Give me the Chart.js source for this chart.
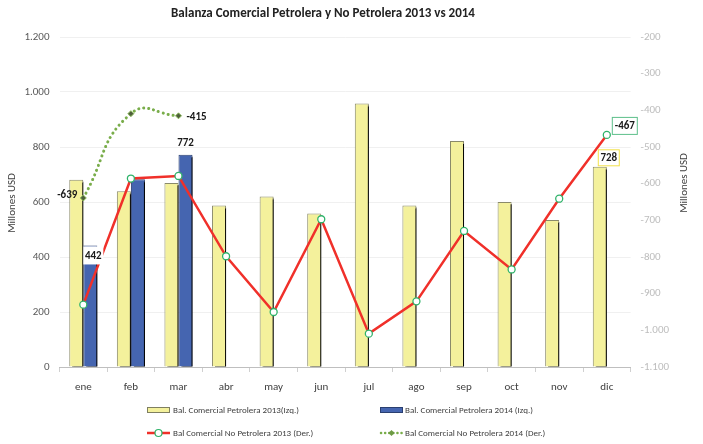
<!DOCTYPE html>
<html>
<head>
<meta charset="utf-8">
<script src="https://cdn.jsdelivr.net/npm/chart.js@4.4.1/dist/chart.umd.min.js"></script>
<style>
  body { margin: 0; background: #fff; }
</style>
</head>
<body>
<canvas id="chart" width="703" height="444"></canvas>
<script>
const FONT = 'Carlito, Lato, sans-serif'

const months = ['ene', 'feb', 'mar', 'abr', 'may', 'jun', 'jul', 'ago', 'sep', 'oct', 'nov', 'dic']
const petrolera2013 = [681, 639, 669, 587, 620, 558, 958, 587, 822, 600, 535, 728]
const petrolera2014 = [442, 683, 772, null, null, null, null, null, null, null, null, null]
const noPetrolera2013 = [-930, -586, -579, -798, -950, -697, -1009, -921, -729, -834, -641, -467]
const noPetrolera2014 = [-639, -409, -415, null, null, null, null, null, null, null, null, null]

const seriesNames = [
    'Bal. Comercial Petrolera 2013(Izq.)',
    'Bal. Comercial Petrolera 2014 (Izq.)',
    'Bal Comercial No Petrolera 2013 (Der.)',
    'Bal Comercial No Petrolera 2014 (Der.)'
]
const chartTitle = 'Balanza Comercial Petrolera y No Petrolera 2013 vs 2014'
const axisTitle = 'Millones USD'

function fmt(v) {
    // thousands with a dot, like the spanish excel
    const s = Math.abs(v).toString().replace(/\B(?=(\d{3})+(?!\d))/g, '.')
    return (v < 0 ? '-' : '') + s
}

// dark shadow on the right of the bars
const barShadow = {
    id: 'barShadow',
    beforeDatasetDraw(chart, args) {
        if (args.meta.type !== 'bar') return
        const ctx = chart.ctx
        ctx.save()
        ctx.shadowColor = 'rgba(0,0,0,1)'
        ctx.shadowOffsetX = 3
        ctx.shadowOffsetY = 2
        ctx.shadowBlur = 0
    },
    afterDatasetDraw(chart, args) {
        if (args.meta.type !== 'bar') return
        chart.ctx.restore()
    }
}

function boxLabel(ctx, text, cx, cy, w, h, border) {
    ctx.fillStyle = '#fff'
    ctx.fillRect(cx - w / 2, cy - h / 2, w, h)
    if (border) {
        ctx.strokeStyle = border
        ctx.lineWidth = 1
        ctx.strokeRect(cx - w / 2 + 0.5, cy - h / 2 + 0.5, w - 1, h - 1)
    }
    ctx.fillStyle = '#1a1a1a'
    ctx.fillText(text, cx, cy + 0.5)
}

// titles, data labels and the 2x2 legend
const decorations = {
    id: 'decorations',
    afterDraw(chart) {
        const ctx = chart.ctx
        ctx.save()

        // title
        ctx.font = 'bold 13px ' + FONT
        ctx.fillStyle = '#222'
        ctx.textAlign = 'center'
        ctx.textBaseline = 'middle'
        ctx.fillText(chartTitle, 323, 14)

        // axis titles
        ctx.font = '11px ' + FONT
        ctx.fillStyle = '#404040'
        ctx.save()
        ctx.translate(12, 203)
        ctx.rotate(-Math.PI / 2)
        ctx.fillText(axisTitle, 0, 0)
        ctx.restore()
        ctx.save()
        ctx.translate(684, 183)
        ctx.rotate(-Math.PI / 2)
        ctx.fillText(axisTitle, 0, 0)
        ctx.restore()

        // data labels
        const b13 = chart.getDatasetMeta(2).data
        const b14 = chart.getDatasetMeta(3).data
        const l13 = chart.getDatasetMeta(0).data
        const l14 = chart.getDatasetMeta(1).data
        ctx.font = 'bold 11px ' + FONT
        ctx.fillStyle = '#1a1a1a'
        ctx.textAlign = 'center'
        ctx.fillText(fmt(noPetrolera2014[0]), l14[0].x - 16, l14[0].y - 3)
        ctx.fillText(fmt(noPetrolera2014[2]), l14[2].x + 18, l14[2].y + 1)
        ctx.fillText(fmt(petrolera2014[2]), b14[2].x, b14[2].y - 11)
        boxLabel(ctx, fmt(petrolera2014[0]), b14[0].x + 3, b14[0].y + 10, 20, 18, null)
        boxLabel(ctx, fmt(petrolera2013[11]), b13[11].x + 9, b13[11].y - 9, 22, 17, '#f2e24a')
        boxLabel(ctx, fmt(noPetrolera2013[11]), l13[11].x + 18, l13[11].y - 9, 26, 18, '#5cbf8a')

        // legend
        ctx.font = '9px ' + FONT
        ctx.textAlign = 'left'
        const cols = [147, 380]
        const rows = [410, 433]
        // yellow bar
        ctx.fillStyle = '#f4f19c'
        ctx.fillRect(cols[0], rows[0] - 3, 23, 6)
        ctx.strokeStyle = '#7f7f60'
        ctx.lineWidth = 1
        ctx.strokeRect(cols[0] + 0.5, rows[0] - 2.5, 22, 5)
        // blue bar
        ctx.fillStyle = '#4565b0'
        ctx.fillRect(cols[1], rows[0] - 3, 23, 6)
        ctx.strokeStyle = '#2a3f70'
        ctx.strokeRect(cols[1] + 0.5, rows[0] - 2.5, 22, 5)
        // red line
        ctx.strokeStyle = '#f0302a'
        ctx.lineWidth = 2.5
        ctx.beginPath()
        ctx.moveTo(cols[0], rows[1])
        ctx.lineTo(cols[0] + 23, rows[1])
        ctx.stroke()
        ctx.fillStyle = '#fff'
        ctx.strokeStyle = '#2fb36a'
        ctx.lineWidth = 1.2
        ctx.beginPath()
        ctx.arc(cols[0] + 11.5, rows[1], 3.5, 0, Math.PI * 2)
        ctx.fill()
        ctx.stroke()
        // green dotted
        ctx.strokeStyle = '#79ad4a'
        ctx.lineWidth = 2.5
        ctx.lineCap = 'round'
        ctx.setLineDash([0.1, 4])
        ctx.beginPath()
        ctx.moveTo(cols[1] + 1, rows[1])
        ctx.lineTo(cols[1] + 22, rows[1])
        ctx.stroke()
        ctx.setLineDash([])
        ctx.fillStyle = '#6d9a44'
        ctx.beginPath()
        ctx.moveTo(cols[1] + 11.5, rows[1] - 3)
        ctx.lineTo(cols[1] + 14.5, rows[1])
        ctx.lineTo(cols[1] + 11.5, rows[1] + 3)
        ctx.lineTo(cols[1] + 8.5, rows[1])
        ctx.closePath()
        ctx.fill()

        ctx.fillStyle = '#404040'
        ctx.fillText(seriesNames[0], cols[0] + 26, rows[0] + 0.5)
        ctx.fillText(seriesNames[1], cols[1] + 25, rows[0] + 0.5)
        ctx.fillText(seriesNames[2], cols[0] + 26, rows[1] + 0.5)
        ctx.fillText(seriesNames[3], cols[1] + 25, rows[1] + 0.5)
        ctx.restore()
    }
}

Chart.defaults.font.family = FONT
Chart.defaults.font.size = 11

new Chart(document.getElementById('chart'), {
    type: 'bar',
    data: {
        labels: months,
        datasets: [{
            type: 'line',
            label: seriesNames[2],
            data: noPetrolera2013,
            yAxisID: 'yRight',
            borderColor: '#f0302a',
            borderWidth: 2.5,
            tension: 0,
            pointRadius: 3.5,
            pointBackgroundColor: '#fff',
            pointBorderColor: '#2fb36a',
            pointBorderWidth: 1.3,
            order: 1
        }, {
            type: 'line',
            label: seriesNames[3],
            data: noPetrolera2014,
            yAxisID: 'yRight',
            borderColor: '#79ad4a',
            borderWidth: 3,
            borderDash: [0.1, 5],
            borderCapStyle: 'round',
            tension: 0.5,
            pointStyle: 'rectRot',
            pointRadius: 3,
            pointBackgroundColor: '#4e5e3c',
            pointBorderColor: '#8dbd5c',
            pointBorderWidth: 1,
            order: 1
        }, {
            label: seriesNames[0],
            data: petrolera2013,
            yAxisID: 'yLeft',
            backgroundColor: '#f4f19c',
            borderColor: '#8a8a6a',
            borderWidth: 1,
            categoryPercentage: 0.59,
            barPercentage: 1,
            order: 2
        }, {
            label: seriesNames[1],
            data: petrolera2014,
            yAxisID: 'yLeft',
            backgroundColor: '#4565b0',
            borderColor: '#2a3f70',
            borderWidth: 1,
            categoryPercentage: 0.59,
            barPercentage: 1,
            order: 2
        }]
    },
    options: {
        responsive: false,
        animation: false,
        layout: { padding: { top: 37, left: 0, right: 0, bottom: 0 } },
        plugins: {
            legend: { display: false },
            tooltip: { enabled: false }
        },
        scales: {
            x: {
                grid: {
                    drawOnChartArea: false,
                    offset: true,
                    tickLength: 5,
                    color: '#d0d0d0'
                },
                border: { color: '#bfbfbf' },
                ticks: { color: '#404040', padding: 9 },
                afterFit(scale) { scale.height = 77 }
            },
            yLeft: {
                position: 'left',
                min: 0,
                max: 1200,
                ticks: { stepSize: 200, color: '#595959', padding: 10, callback: v => fmt(v) },
                grid: { color: '#f0f0f0', drawTicks: false },
                border: { display: false },
                afterFit(scale) { scale.width = 59.5 }
            },
            yRight: {
                position: 'right',
                min: -1100,
                max: -200,
                ticks: { stepSize: 100, color: '#bdbdbd', padding: 10, callback: v => fmt(v) },
                grid: { display: false, drawTicks: false },
                border: { display: false },
                afterFit(scale) { scale.width = 72.4 }
            }
        }
    },
    plugins: [barShadow, decorations]
});
</script>
</body>
</html>
